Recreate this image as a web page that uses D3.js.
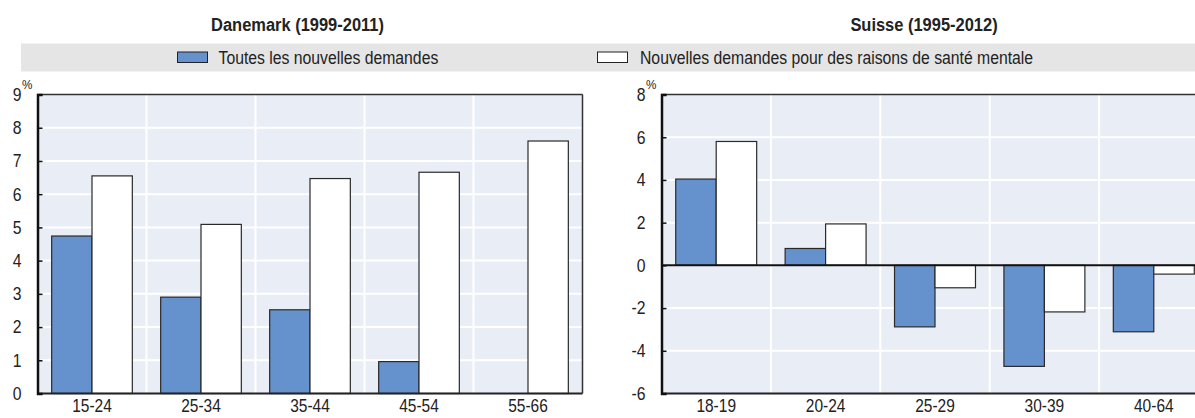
<!DOCTYPE html>
<html><head><meta charset="utf-8">
<script src="https://cdn.jsdelivr.net/npm/d3@7"></script>
<style>
body{margin:0;background:#fff;}
text{font-family:'Liberation Sans',Arial,sans-serif;fill:#222;}
</style></head>
<body><svg id="c" width="1195" height="418"></svg>
<script>
const seriesNames = ["Toutes les nouvelles demandes", "Nouvelles demandes pour des raisons de santé mentale"];
const dkCategories = ["15-24","25-34","35-44","45-54","55-66"];
const dkAll = [4.74, 2.90, 2.52, 0.96, null];
const dkMental = [6.55, 5.09, 6.47, 6.66, 7.60];
const dkTicks = [0,1,2,3,4,5,6,7,8,9];
const chCategories = ["18-19","20-24","25-29","30-39","40-64"];
const chAll = [4.04, 0.79, -2.88, -4.73, -3.11];
const chMental = [5.80, 1.94, -1.05, -2.18, -0.41];
const chTicks = [-6,-4,-2,0,2,4,6,8];
const titles = ["Danemark (1999-2011)", "Suisse (1995-2012)"];

const svg = d3.select("#c");
const blue = "#6592CC";
const bg = "#E9EDF6";

function condense(sel, f){
  sel.each(function(){
    const L = this.getComputedTextLength();
    d3.select(this).attr("textLength", L*f).attr("lengthAdjust","spacingAndGlyphs");
  });
}

// legend band
svg.append("rect").attr("x",21).attr("y",43.5).attr("width",1174).attr("height",28).attr("fill","#E5E5E5");
const legendItems = [{x:177.5, fill:blue, tx:218.5},{x:597.5, fill:"#fff", tx:640}];
legendItems.forEach((it,i)=>{
  svg.append("rect").attr("x",it.x).attr("y",52).attr("width",30).attr("height",10.5)
    .attr("fill",it.fill).attr("stroke","#222").attr("stroke-width",1);
  const t = svg.append("text").attr("x",it.tx).attr("y",63.5).attr("font-size",17.5).text(seriesNames[i]);
  condense(t, 0.9);
});

function panel(opts){
  const {x0,x1,yTop,yBot,domain,cats,a,b,ticks,title,titleX} = opts;
  const g = svg.append("g");
  const x = d3.scaleBand().domain(cats).range([x0,x1]).padding(0);
  const y = d3.scaleLinear().domain(domain).range([yBot,yTop]);
  g.append("rect").attr("x",x0).attr("y",yTop).attr("width",x1-x0).attr("height",yBot-yTop).attr("fill",bg);
  g.selectAll(".hg").data(ticks.filter(t=>t!==domain[0]&&t!==domain[1])).join("line")
    .attr("x1",x0).attr("x2",x1).attr("y1",d=>y(d)).attr("y2",d=>y(d)).attr("stroke","#fff").attr("stroke-width",2);
  g.selectAll(".vg").data(cats.slice(1)).join("line")
    .attr("x1",d=>x(d)).attr("x2",d=>x(d)).attr("y1",yTop).attr("y2",yBot).attr("stroke","#fff").attr("stroke-width",2);
  const bw = x.bandwidth()*0.37;
  const off = x.bandwidth()*0.13;
  const data = [];
  cats.forEach((c,i)=>{
    if(a[i]!=null) data.push({c, v:a[i], s:0});
    if(b[i]!=null) data.push({c, v:b[i], s:1});
  });
  g.selectAll(".bar").data(data).join("rect")
    .attr("x",d=>x(d.c)+off+d.s*bw).attr("width",bw)
    .attr("y",d=>y(Math.max(0,d.v))).attr("height",d=>Math.abs(y(d.v)-y(0)))
    .attr("fill",d=>d.s===0?blue:"#fff").attr("stroke","#2a2a2a").attr("stroke-width",1.2);
  g.append("line").attr("x1",x0).attr("x2",x1).attr("y1",yTop).attr("y2",yTop).attr("stroke","#333").attr("stroke-width",1.5);
  g.append("line").attr("x1",x1).attr("x2",x1).attr("y1",yTop).attr("y2",yBot).attr("stroke","#333").attr("stroke-width",1.5);
  g.append("line").attr("x1",x0).attr("x2",x1).attr("y1",yBot).attr("y2",yBot).attr("stroke","#222").attr("stroke-width",2);
  if(domain[0]<0) g.append("line").attr("x1",x0).attr("x2",x1).attr("y1",y(0)).attr("y2",y(0)).attr("stroke","#111").attr("stroke-width",2);
  const ya = d3.axisLeft(y).tickValues(ticks).tickSize(-5).tickPadding(16).tickFormat(d=>String(d));
  const yg = g.append("g").attr("transform",`translate(${x0},0)`).call(ya);
  yg.attr("font-family",null).attr("font-size",null);
  yg.select(".domain").attr("stroke","#111").attr("stroke-width",2.5);
  yg.selectAll(".tick line").attr("stroke","#111").attr("stroke-width",1.5);
  yg.selectAll(".tick text").attr("font-size",18.5).attr("fill","#222");
  condense(yg.selectAll(".tick text"), 0.85);
  const pct = g.append("text").attr("x",x0-15.5).attr("y",yTop-6).attr("font-size",13).text("%");
  condense(pct, 0.9);
  const xa = d3.axisBottom(x).tickSize(0).tickPadding(6);
  const xg = g.append("g").attr("transform",`translate(0,${yBot})`).call(xa);
  xg.attr("font-family",null).attr("font-size",null);
  xg.select(".domain").remove();
  xg.selectAll(".tick text").attr("font-size",18).attr("fill","#222");
  condense(xg.selectAll(".tick text"), 0.86);
  const tt = svg.append("text").attr("x",titleX).attr("y",31).attr("text-anchor","middle").attr("font-size",17.5).attr("font-weight","bold").text(title);
  condense(tt, 0.94);
}

panel({x0:37.5,x1:582.5,yTop:94.5,yBot:393.5,domain:[0,9],cats:dkCategories,a:dkAll,b:dkMental,ticks:dkTicks,title:titles[0],titleX:297.5});
panel({x0:661.5,x1:1208.5,yTop:94.5,yBot:393.5,domain:[-6,8],cats:chCategories,a:chAll,b:chMental,ticks:chTicks,title:titles[1],titleX:924});
</script></body></html>
